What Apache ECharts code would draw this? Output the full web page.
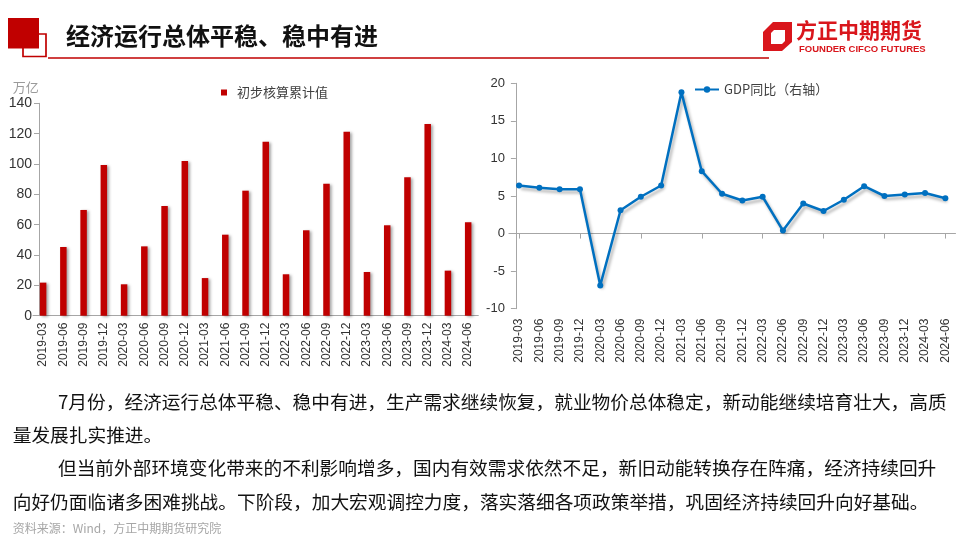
<!DOCTYPE html>
<html>
<head>
<meta charset="utf-8">
<script src="https://cdn.jsdelivr.net/npm/echarts@6/dist/echarts.min.js"></script>
<style>
html,body{margin:0;padding:0;background:#fff;}
#c{width:960px;height:540px;}
</style>
</head>
<body>
<div id="c"></div>
<script>
// ---- data ----
var categories = ['2019-03','2019-06','2019-09','2019-12','2020-03','2020-06','2020-09','2020-12','2021-03','2021-06','2021-09','2021-12','2022-03','2022-06','2022-09','2022-12','2023-03','2023-06','2023-09','2023-12','2024-03','2024-06'];
var gdpCumulative = [21.8,45.3,69.7,99.3,20.7,45.7,72.3,101.9,24.8,53.4,82.4,114.7,27.3,56.3,87.0,121.3,28.8,59.6,91.2,126.4,29.7,61.6];
var gdpYoY = [6.4,6.1,5.9,5.9,-6.9,3.1,4.9,6.4,18.8,8.3,5.3,4.4,4.9,0.4,4.0,3.0,4.5,6.3,5.0,5.2,5.4,4.7];
var barName = '初步核算累计值';
var lineName = 'GDP同比（右轴）';
var titleText = '经济运行总体平稳、稳中有进';
var unitText = '万亿';
var bodyLines = [
  '7月份，经济运行总体平稳、稳中有进，生产需求继续恢复，就业物价总体稳定，新动能继续培育壮大，高质',
  '量发展扎实推进。',
  '但当前外部环境变化带来的不利影响增多，国内有效需求依然不足，新旧动能转换存在阵痛，经济持续回升',
  '向好仍面临诸多困难挑战。下阶段，加大宏观调控力度，落实落细各项政策举措，巩固经济持续回升向好基础。'
];
var sourceText = '资料来源：Wind，方正中期期货研究院';

var latin = "'Liberation Sans','Noto Sans CJK SC',sans-serif";
var cjk = "'Noto Sans CJK SC',sans-serif";

var chart = echarts.init(document.getElementById('c'), null, {renderer:'canvas'});

var bodyX = [58, 12.7, 58, 12.7];
var bodyY = [401.7, 435, 468, 501.7];
var graphics = [
  {type:'rect', shape:{x:23,y:34,width:23,height:22.5}, style:{fill:'none', stroke:'#C00000', lineWidth:1.7}},
  {type:'rect', shape:{x:8,y:18,width:31,height:30.5}, style:{fill:'#C00000'}},
  {type:'line', shape:{x1:48,y1:58,x2:769,y2:58}, style:{stroke:'#C00000', lineWidth:1.3}},
  {type:'text', x:66, y:36, style:{text:titleText, fontSize:24, fontWeight:'bold', fontFamily:cjk, fill:'#111', verticalAlign:'middle'}},
  {type:'polygon', shape:{points:[[763,32],[773,22],[792,22],[792,42],[782,51],[763,51]]}, style:{fill:'#D9161C'}},
  {type:'polygon', shape:{points:[[771,33],[774,30],[785,30],[785,41],[782,44],[771,44]]}, style:{fill:'#fff'}},
  {type:'text', x:796, y:30, style:{text:'方正中期期货', fontSize:21, fontWeight:'bold', fontFamily:cjk, fill:'#D9161C', verticalAlign:'middle'}},
  {type:'text', x:799, y:49.5, style:{text:'FOUNDER CIFCO FUTURES', fontSize:9.5, fontWeight:'bold', fontFamily:latin, fill:'#D9161C', verticalAlign:'middle'}},
  {type:'text', x:12.7, y:87, style:{text:unitText, fontSize:13, fontFamily:cjk, fill:'#9a9a9a', verticalAlign:'middle'}},
  {type:'text', x:12.7, y:528, style:{text:sourceText, fontSize:12, fontFamily:cjk, fill:'#a6a6a6', verticalAlign:'middle'}}
];
for (var i = 0; i < bodyLines.length; i++) {
  graphics.push({type:'text', x:bodyX[i], y:bodyY[i], style:{text:bodyLines[i], fontSize:18.7, fontFamily:cjk, fill:'#111', verticalAlign:'middle'}});
}

var axisLabelX = {rotate:90, fontSize:12, fontFamily:latin, color:'#333', margin:7};

chart.setOption({
  animation:false,
  backgroundColor:'#fff',
  legend:[
    {data:[{name:barName, icon:'rect'}], left:216, top:81, itemWidth:6, itemHeight:6,
     textStyle:{fontSize:13, fontFamily:cjk, color:'#404040', padding:[0,0,0,5]}},
    {data:[lineName], left:689, top:78, itemWidth:24, itemHeight:8,
     textStyle:{fontSize:13, fontFamily:cjk, color:'#404040'}}
  ],
  grid:[
    {left:33, top:103.3, width:445.3, height:212.4},
    {left:508.9, top:83.3, width:446.6, height:225.4}
  ],
  xAxis:[
    {type:'category', gridIndex:0, data:categories, boundaryGap:true,
     axisLine:{lineStyle:{color:'#A6A6A6'}},
     axisTick:{alignWithLabel:true, length:5, lineStyle:{color:'#A6A6A6'}},
     axisLabel:axisLabelX},
    {type:'category', gridIndex:1, data:categories, boundaryGap:true, position:'bottom',
     axisLine:{show:false, onZero:false},
     axisTick:{show:false},
     axisLabel:{rotate:90, fontSize:12, fontFamily:latin, color:'#333', margin:10}},
    {type:'category', gridIndex:1, data:categories, boundaryGap:true, position:'bottom',
     axisLine:{show:true, onZero:true, lineStyle:{color:'#A6A6A6'}},
     axisTick:{show:true, alignWithLabel:true, length:5, lineStyle:{color:'#A6A6A6'}},
     axisLabel:{show:false}}
  ],
  yAxis:[
    {type:'value', gridIndex:0, min:0, max:140, interval:20, offset:-6,
     axisLine:{show:true, lineStyle:{color:'#A6A6A6'}},
     axisTick:{show:true, length:5, lineStyle:{color:'#A6A6A6'}},
     splitLine:{show:false},
     axisLabel:{fontSize:14, fontFamily:latin, color:'#333', margin:7}},
    {type:'value', gridIndex:1, min:-10, max:20, interval:5, offset:-7,
     axisLine:{show:true, lineStyle:{color:'#A6A6A6'}},
     axisTick:{show:true, length:5, lineStyle:{color:'#A6A6A6'}},
     splitLine:{show:false},
     axisLabel:{fontSize:13, fontFamily:latin, color:'#333', margin:11}}
  ],
  series:[
    {name:barName, type:'bar', xAxisIndex:0, yAxisIndex:0, data:gdpCumulative, barWidth:6.5,
     itemStyle:{color:'#C00000', shadowColor:'rgba(0,0,0,0.35)', shadowBlur:3, shadowOffsetX:2, shadowOffsetY:1}},
    {name:lineName, type:'line', xAxisIndex:1, yAxisIndex:1, data:gdpYoY,
     symbol:'circle', symbolSize:6, showSymbol:true,
     lineStyle:{color:'#0070C0', width:2.5, shadowColor:'rgba(0,0,0,0.3)', shadowBlur:3, shadowOffsetX:2, shadowOffsetY:3},
     itemStyle:{color:'#0070C0'}}
  ],
  graphic:graphics
});
</script>
</body>
</html>
